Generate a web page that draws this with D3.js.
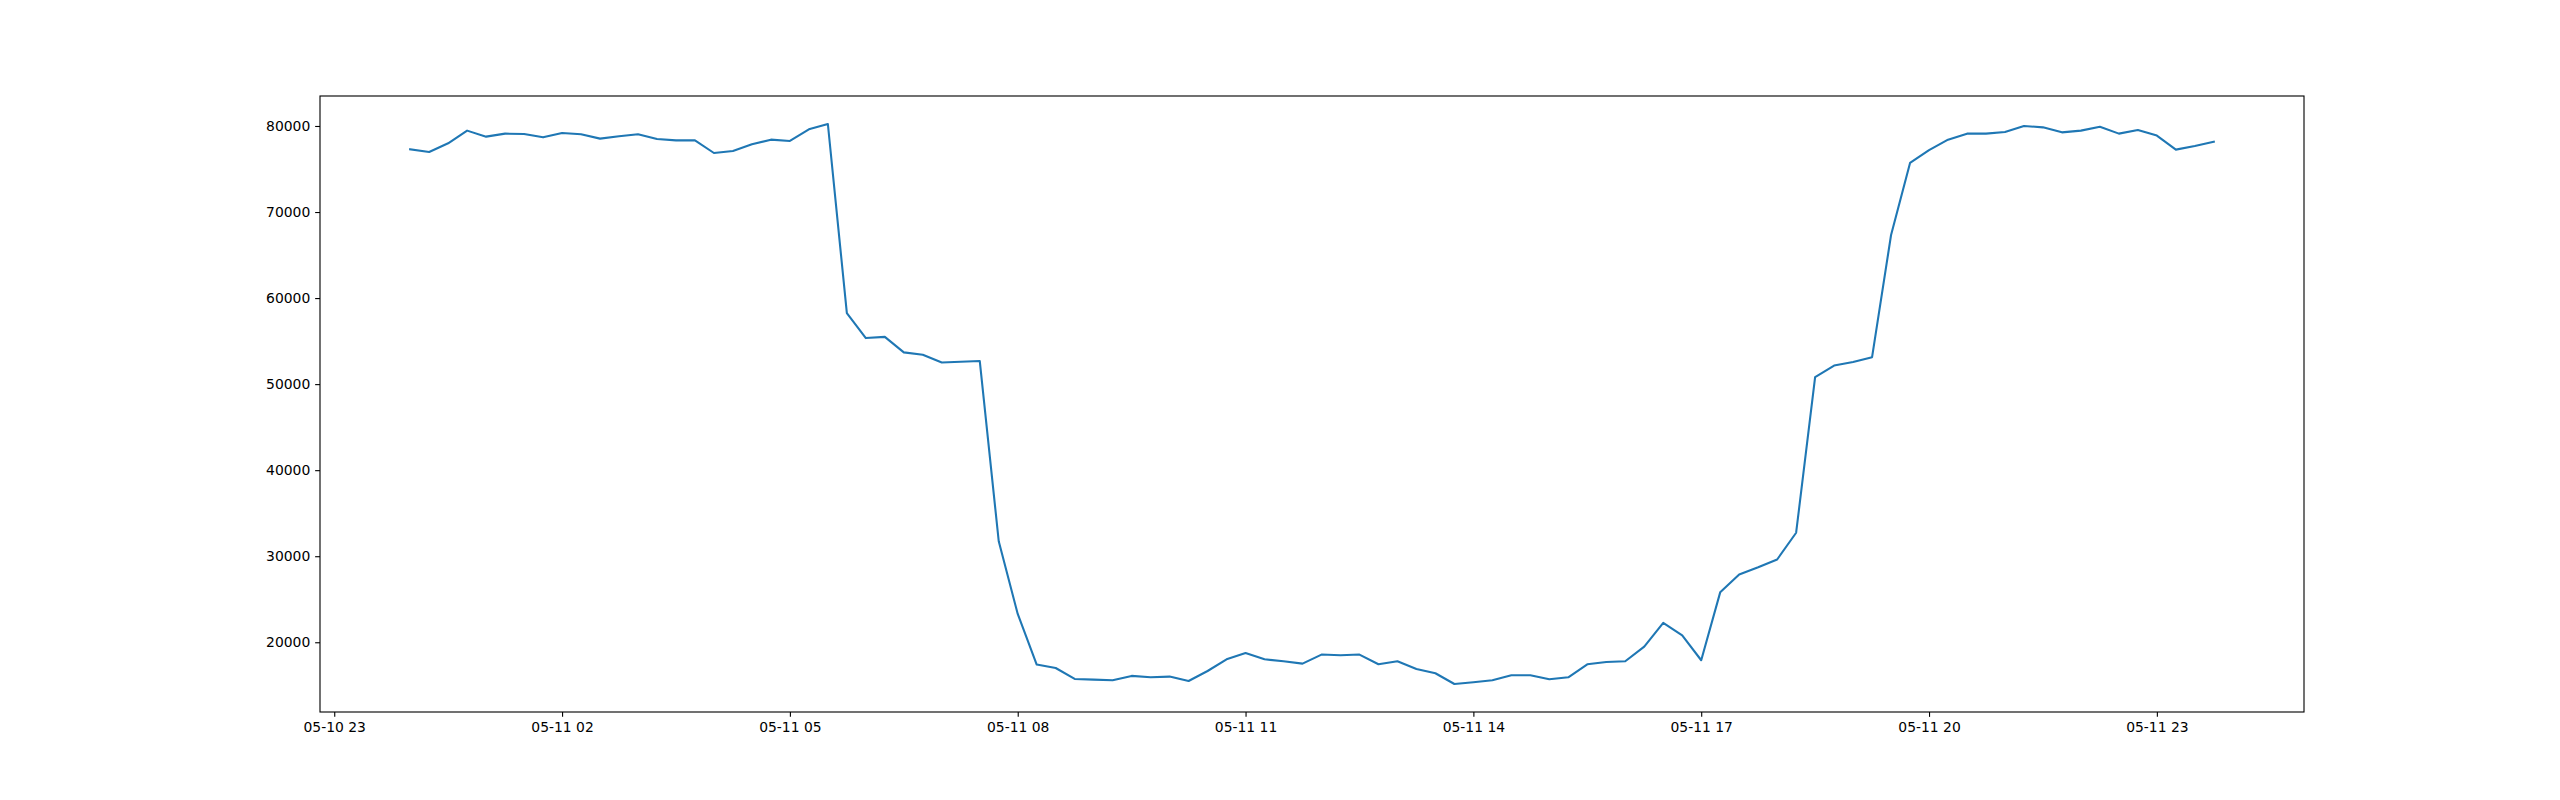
<!DOCTYPE html>
<html>
<head>
<meta charset="utf-8">
<script src="https://cdn.jsdelivr.net/npm/d3@7"></script>
<style>
  body { margin: 0; background: #fff; }
  svg { display: block; }
  .axis text { font-family: "DejaVu Sans", sans-serif; font-size: 13.9px; fill: #000; }
  .axis line { stroke: #000; stroke-width: 1.11px; }
  .axis path { display: none; }
</style>
</head>
<body>
<svg width="2560" height="800"></svg>
<script>
// 15-minute samples for 05-11
var values = [
  77290, 76980, 77990, 79460, 78760, 79110, 79070, 78680,
  79190, 79030, 78530, 78800, 79030, 78490, 78330, 78330,
  76860, 77090, 77870, 78410, 78260, 79610, 80230, 58260,
  55350, 55490, 53690, 53410, 52510, 52600, 52690, 31740,
  23290, 17410, 17010, 15740, 15660, 15580, 16090, 15930,
  16010, 15500, 16660, 18020, 18760, 18020, 17790, 17520,
  18570, 18490, 18570, 17440, 17790, 16900, 16400, 15150,
  15350, 15580, 16160, 16160, 15700, 15930, 17440, 17710,
  17790, 19500, 22260, 20810, 17910, 25800, 27870, 28710,
  29620, 32730, 50800, 52160, 52580, 53130, 67330, 75700,
  77200, 78410, 79110, 79110, 79300, 80000, 79840, 79260,
  79460, 79920, 79110, 79530, 78880, 77250, 77670, 78180
]

var startTime = "2024-05-11 00:00"
var xTickLabels = ["05-10 23", "05-11 02", "05-11 05", "05-11 08", "05-11 11",
                   "05-11 14", "05-11 17", "05-11 20", "05-11 23"]
var yTickValues = [20000, 30000, 40000, 50000, 60000, 70000, 80000]

var parseStart = d3.timeParse("%Y-%m-%d %H:%M")
var parseTick = d3.timeParse("%Y %m-%d %H")

var t0 = parseStart(startTime)
var times = d3.timeMinute.every(15).range(t0, d3.timeMinute.offset(t0, 15 * values.length))
var data = values.map(function(v, i) { return { t: times[i], v: v } })
var tickDates = xTickLabels.map(function(s) { return parseTick("2024 " + s) })

var svg = d3.select("svg"),
    margin = {top: 96, right: 256, bottom: 88, left: 320},
    width = +svg.attr("width") - margin.left - margin.right,
    height = +svg.attr("height") - margin.top - margin.bottom,
    g = svg.append("g").attr("transform", "translate(" + margin.left + "," + margin.top + ")");

// matplotlib style 5% margins
var tExt = d3.extent(data, function(d) { return +d.t })
var tPad = (tExt[1] - tExt[0]) * 0.05
var vExt = d3.extent(data, function(d) { return d.v })
var vPad = (vExt[1] - vExt[0]) * 0.05

var x = d3.scaleTime()
    .domain([new Date(tExt[0] - tPad), new Date(tExt[1] + tPad)])
    .range([0, width])

var y = d3.scaleLinear()
    .domain([vExt[0] - vPad, vExt[1] + vPad])
    .range([height, 0])

var line = d3.line()
    .x(function(d) { return x(d.t) })
    .y(function(d) { return y(d.v) })

g.append("path")
    .datum(data)
    .attr("fill", "none")
    .attr("stroke", "#1f77b4")
    .attr("stroke-width", 2.08)
    .attr("stroke-linejoin", "round")
    .attr("stroke-linecap", "square")
    .attr("d", line)

g.append("g")
    .attr("class", "axis")
    .attr("transform", "translate(0," + height + ")")
    .call(d3.axisBottom(x)
      .tickValues(tickDates)
      .tickSize(4.86)
      .tickPadding(4.86)
      .tickFormat(function(d, i) { return xTickLabels[i] }))

g.append("g")
    .attr("class", "axis")
    .call(d3.axisLeft(y)
      .tickValues(yTickValues)
      .tickSize(4.86)
      .tickPadding(4.86)
      .tickFormat(d3.format("d")))

g.append("rect")
    .attr("width", width)
    .attr("height", height)
    .attr("fill", "none")
    .attr("stroke", "#000")
    .attr("stroke-width", 1.11)
</script>
</body>
</html>
